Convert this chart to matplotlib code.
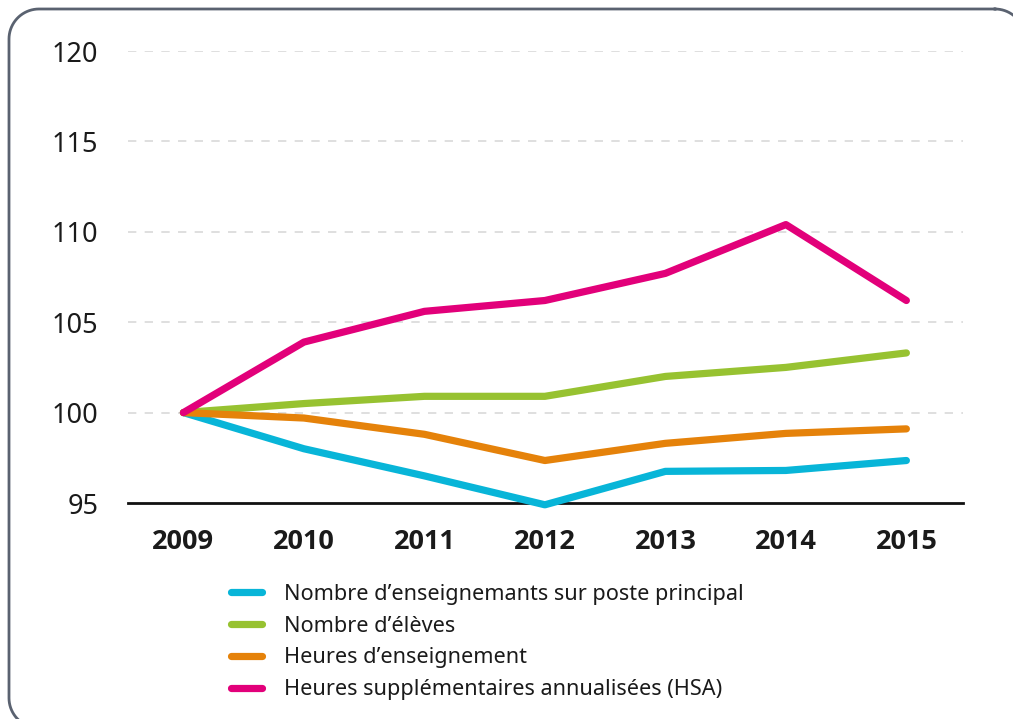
import numpy as np
import matplotlib.pyplot as plt
from matplotlib.lines import Line2D

years = [2009, 2010, 2011, 2012, 2013, 2014, 2015]
enseignants = [100, 98.0, 96.5, 94.9, 96.75, 96.8, 97.35]
eleves = [100, 100.5, 100.9, 100.9, 102.0, 102.5, 103.3]
heures = [100, 99.7, 98.8, 97.35, 98.3, 98.85, 99.1]
hsa = [100, 103.9, 105.6, 106.2, 107.7, 110.4, 106.2]

series_labels = [
    "Nombre d\u2019enseignemants sur poste principal",
    "Nombre d\u2019élèves",
    "Heures d\u2019enseignement",
    "Heures supplémentaires annualisées (HSA)",
]
series_colors = ["#08B5D8", "#97C231", "#E5820A", "#E2007A"]
y_ticks = [95, 100, 105, 110, 115, 120]

plt.rcParams["font.family"] = ["Noto Sans", "DejaVu Sans"]

W, H = 1013, 719
fig = plt.figure(figsize=(W / 100, H / 100), dpi=100)


def rounded_frame(left, top, right, bottom, r):
    # outline of a rounded rectangle in pixel units (y grows downwards)
    xs, ys = [], []
    corners = [
        (right - r, top + r, 270, 360),
        (right - r, bottom - r, 0, 90),
        (left + r, bottom - r, 90, 180),
        (left + r, top + r, 180, 270),
    ]
    for cx, cy, a0, a1 in corners:
        t = np.radians(np.linspace(a0, a1, 20))
        xs.extend(cx + r * np.cos(t))
        ys.extend(cy + r * np.sin(t))
    xs.append(xs[0])
    ys.append(ys[0])
    return xs, ys


bg = fig.add_axes([0, 0, 1, 1])
bg.set_xlim(0, W)
bg.set_ylim(H, 0)
bg.axis("off")
fx, fy = rounded_frame(9, 9, 1025, 728, 30)
bg.plot(fx, fy, color="#5A6270", linewidth=2)

ax = fig.add_axes([128 / W, 1 - 503 / H, (963 - 128) / W, (503 - 51) / H])

for vals, color in zip([enseignants, eleves, heures, hsa], series_colors):
    ax.plot(years, vals, color=color, linewidth=5.2, solid_capstyle="round",
            solid_joinstyle="round", clip_on=False, zorder=3)

ax.set_xlim(2008.54, 2015.47)
ax.set_ylim(95, 120)
ax.set_yticks(y_ticks)
ax.set_xticks(years)
ax.set_xticklabels([str(y) for y in years], fontsize=19.5, fontweight="bold",
                   family="Open Sans", color="#1a1a1a")
ax.set_yticklabels([str(v) for v in y_ticks], fontsize=19.5, color="#1a1a1a")
ax.tick_params(axis="both", length=0)
ax.tick_params(axis="x", pad=19)
ax.tick_params(axis="y", pad=21.5)

for v in y_ticks[1:]:
    ax.axhline(v, color="#D9D9D9", linewidth=1.2, linestyle=(0, (5, 5)), zorder=1)

for side in ["top", "right", "left"]:
    ax.spines[side].set_visible(False)
ax.spines["bottom"].set_color("#111111")
ax.spines["bottom"].set_linewidth(2)
ax.spines["bottom"].set_zorder(2)

handles = [Line2D([0], [0], color=c, linewidth=5.2, solid_capstyle="round")
           for c in series_colors]
fig.legend(handles, series_labels, loc="upper left",
           bbox_to_anchor=(222 / W, 1 - 575 / H), frameon=False,
           fontsize=15.6, handlelength=1.45, handletextpad=1.0,
           labelspacing=0.5, borderaxespad=0, labelcolor="#1a1a1a")

fig.savefig("out.png", dpi=100)
